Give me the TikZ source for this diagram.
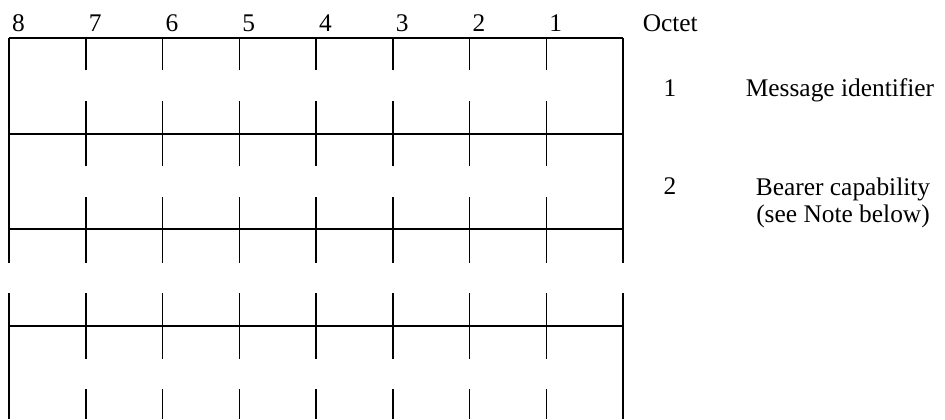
\documentclass[tikz,border=0pt]{standalone}
\usepackage{fontspec}
\setmainfont{Liberation Serif}
\begin{document}
\begin{tikzpicture}[x=0.5pt, y=-0.5pt, line width=0.75pt,
    lbl/.style={inner sep=0pt, font=\fontsize{12.7}{13.5}\selectfont}]
  \useasboundingbox (0,0) rectangle (945,419);
  % frame lines
  \draw (9,38) -- (623,38);
  \foreach \y in {134,229,326} \draw (9,\y) -- (623,\y);
  \foreach \x in {9,623} {
    \draw (\x,38) -- (\x,263);
    \draw (\x,293) -- (\x,419);
  }
  % bit ticks
  \foreach \i in {1,...,7} {
    \pgfmathsetmacro{\xc}{9+76.75*\i}
    \draw (\xc,38) -- (\xc,70);
    \draw (\xc,101) -- (\xc,166);
    \draw (\xc,197) -- (\xc,263);
    \draw (\xc,293) -- (\xc,359);
    \draw (\xc,389) -- (\xc,419);
  }
  % bit numbers
  \foreach \b [count=\i from 0] in {8,7,6,5,4,3,2,1}
    \node[lbl, anchor=base] (bit\b) at ({18.5+76.75*\i},31) {\b};
  \node[lbl, anchor=base west] (octet) at (642,31) {Octet};
  % octet labels
  \node[lbl, anchor=base] (oct1) at (670,96) {1};
  \node[lbl, anchor=base] (msgid) at (840,96) {Message identifier};
  \node[lbl, anchor=base] (oct2) at (670,194) {2};
  \node[lbl, anchor=base] (bearer) at (843,195) {Bearer capability};
  \node[lbl, anchor=base] (note) at (843,222) {(see Note below)};
\end{tikzpicture}
\end{document}
